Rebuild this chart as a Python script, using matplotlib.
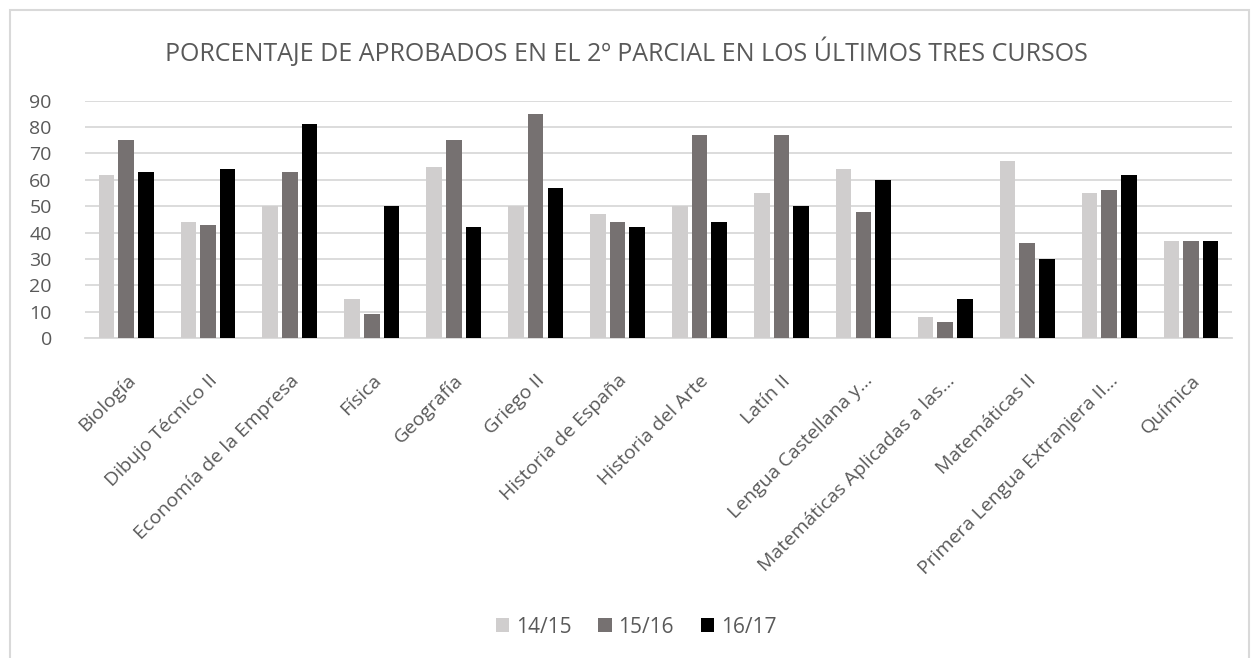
import numpy as np
import matplotlib
matplotlib.use('Agg')
import matplotlib.pyplot as plt
from matplotlib.patches import Rectangle

plt.rcParams['font.family'] = ['Open Sans', 'DejaVu Sans']

asignaturas = ['Biología', 'Dibujo Técnico II', 'Economía de la Empresa', 'Física',
               'Geografía', 'Griego II', 'Historia de España', 'Historia del Arte',
               'Latín II', 'Lengua Castellana y…', 'Matemáticas Aplicadas a las…',
               'Matemáticas II', 'Primera Lengua Extranjera II…', 'Química']
cursos = ['14/15', '15/16', '16/17']
c1415 = [62, 44, 50, 15, 65, 50, 47, 50, 55, 64, 8, 67, 55, 37]
c1516 = [75, 43, 63, 9, 75, 85, 44, 77, 77, 48, 6, 36, 56, 37]
c1617 = [63, 64, 81, 50, 42, 57, 42, 44, 50, 60, 15, 30, 62, 37]
colores = ['#D0CECE', '#767171', '#000000']

txt = '#595959'

fig = plt.figure(figsize=(12.52, 6.58), dpi=100)
# chart border
fig.patches.append(Rectangle((0.008, -0.01), 0.99, 0.995, transform=fig.transFigure,
                             fill=False, edgecolor='#D9D9D9', linewidth=1.5))

ax = fig.add_axes([0.068, 0.486, 0.916, 0.361])
x = np.arange(len(asignaturas))
w = 0.19
gap = 0.05
series = [c1415, c1516, c1617]
for i, vals in enumerate(series):
    ax.bar(x + (i - 1) * (w + gap), vals, width=w, color=colores[i], label=cursos[i], zorder=3)

ax.set_xlim(-0.5, len(asignaturas) - 0.5)
ax.set_ylim(0, 90)
ax.set_yticks(range(0, 91, 10))
ax.grid(axis='y', color='#D9D9D9', linewidth=1.3, zorder=0)
for s in ['top', 'right', 'left']:
    ax.spines[s].set_visible(False)
ax.spines['bottom'].set_color('#D9D9D9')
ax.spines['bottom'].set_linewidth(1.3)
ax.tick_params(axis='both', length=0, colors=txt)
ax.tick_params(axis='y', pad=24, labelsize=14)
ax.set_xticks(x)
ax.set_xticklabels(asignaturas, rotation=45, ha='right', rotation_mode='anchor')
ax.tick_params(axis='x', pad=24, labelsize=14)
for lab in ax.get_xticklabels():
    lab.set_color(txt)

fig.text(0.5, 0.921, 'PORCENTAJE DE APROBADOS EN EL 2º PARCIAL EN LOS ÚLTIMOS TRES CURSOS',
         ha='center', va='center', fontsize=18, color=txt)

fig.legend(loc='center', bbox_to_anchor=(0.508, 0.047), ncol=3, frameon=False,
           fontsize=15, labelcolor=txt, handlelength=0.65, handleheight=0.65,
           handletextpad=0.3, columnspacing=1.3)

fig.savefig('out.png', dpi=100)
